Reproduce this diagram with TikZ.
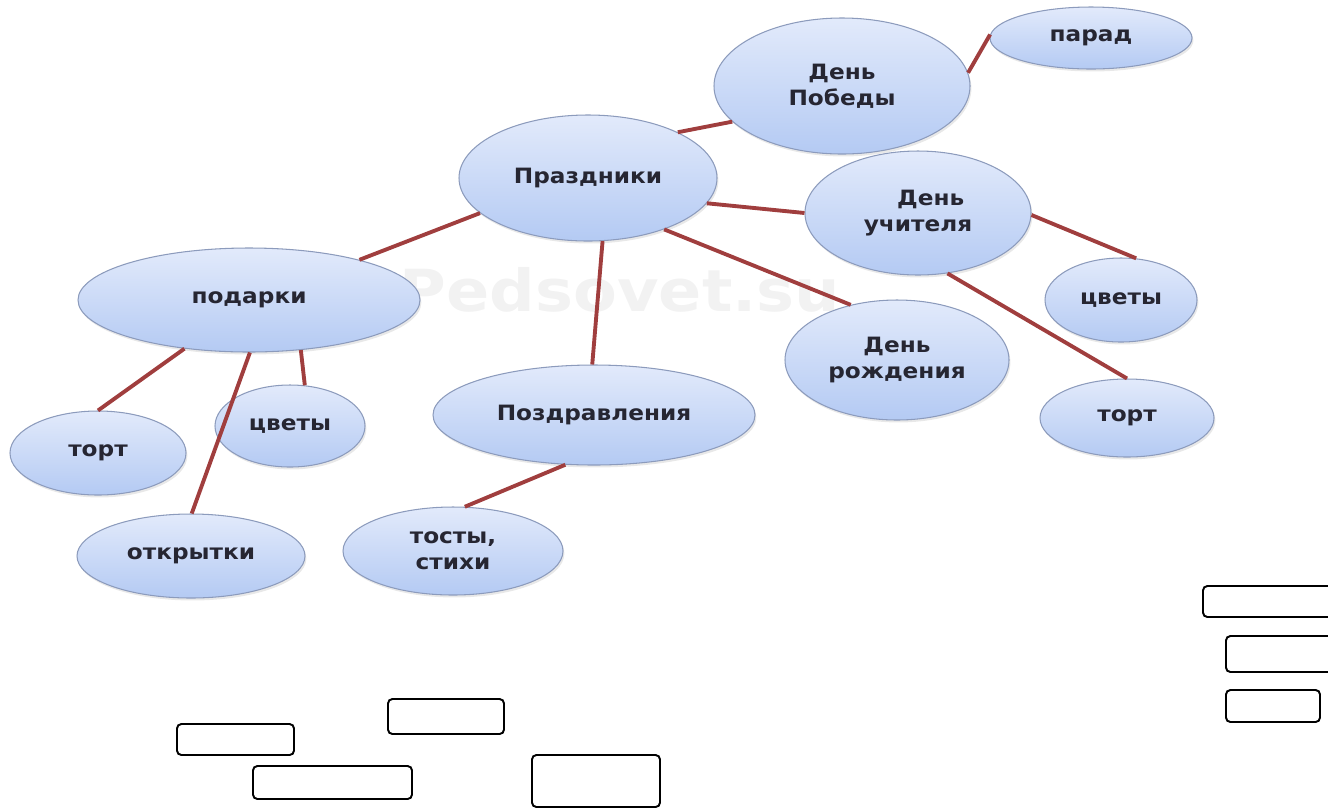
\documentclass[tikz,border=0pt]{standalone}
\usepackage{fontspec}
\newfontfamily\mapfont[FakeStretch=1.1]{DejaVu Sans}
\usetikzlibrary{shapes.geometric,shadows}

\definecolor{bubbletop}{RGB}{226,234,251}
\definecolor{bubblebot}{RGB}{180,202,243}
\definecolor{bubbleline}{RGB}{140,155,188}
\definecolor{labeltext}{RGB}{38,38,50}
\definecolor{linkred}{RGB}{160,62,62}

\tikzset{
  bubble/.style={ellipse, draw=bubbleline, line width=0.6pt,
    top color=bubbletop, bottom color=bubblebot, inner sep=0pt,
    align=center, text=labeltext,
    font=\mapfont\bfseries\fontsize{12}{15}\selectfont,
    drop shadow={opacity=0.18, shadow xshift=0.8pt, shadow yshift=-1.4pt}},
  radii/.style 2 args={minimum width=#1*0.4mm, minimum height=#2*0.4mm},
  link/.style={draw=linkred, line width=2.2pt},
  blankbox/.style={draw=black, line width=1.1pt, rounded corners=2.5pt},
  watermark/.style={text=black!5, font=\mapfont\bfseries\fontsize{33}{33}\selectfont},
}

\begin{document}
\begin{tikzpicture}[x=0.2mm, y=-0.2mm]
  \useasboundingbox (0,0) rectangle (1328,810);
  \node[watermark] at (620,290) (mark) {Pedsovet.su};

  % central node and its branches
  \node[bubble, radii={129}{63}] at (588,178) (holidays) {Праздники};
  \node[bubble, radii={128}{68}] at (842,86) (victory) {День\\Победы};
  \node[bubble, radii={101}{31}] at (1091,38) (parade) {парад};
  \node[bubble, radii={113}{62}] at (918,213) (teacher) {\hspace{1.2em}День\\учителя};
  \node[bubble, radii={76}{42}] at (1121,300) (flowersR) {цветы};
  \node[bubble, radii={87}{39}] at (1127,418) (cakeR) {торт};
  \node[bubble, radii={112}{60}] at (897,360) (birthday) {День\\рождения};
  \node[bubble, radii={161}{50}] at (594,415) (greetings) {Поздравления};
  \node[bubble, radii={110}{44}] at (453,551) (toasts) {тосты,\\стихи};
  \node[bubble, radii={171}{52}] at (249,300) (gifts) {подарки};
  \node[bubble, radii={88}{42}] at (98,453) (cakeL) {торт};
  \node[bubble, radii={75}{41}] at (290,426) (flowersL) {цветы};
  \node[bubble, radii={114}{42}] at (191,556) (cards) {открытки};

  \draw[link] (holidays.27) -- (victory.198);
  \draw[link] (victory.6) -- (parade.178);
  \draw[link] (holidays.-12) -- (teacher.180);
  \draw[link] (teacher.-1) -- (flowersR.70);
  \draw[link] (teacher.-64) -- (cakeR.90);
  \draw[link] (holidays.-34) -- (birthday.130);
  \draw[link] (holidays.-77) -- (greetings.92);
  \draw[link] (holidays.198) -- (gifts.20);
  \draw[link] (gifts.217) -- (cakeL.90);
  \draw[link] (gifts.-44) -- (flowersL.70);
  \draw[link] (gifts.-89) -- (cards.89);
  \draw[link] (greetings.240) -- (toasts.75);

  % empty answer boxes
  \draw[blankbox] (1203,586) rectangle (1345,617);
  \draw[blankbox] (1226,636) rectangle (1345,672);
  \draw[blankbox] (1226,690) rectangle (1320,722);
  \draw[blankbox] (388,699) rectangle (504,734);
  \draw[blankbox] (177,724) rectangle (294,755);
  \draw[blankbox] (253,766) rectangle (412,799);
  \draw[blankbox] (532,755) rectangle (660,807);
\end{tikzpicture}
\end{document}
